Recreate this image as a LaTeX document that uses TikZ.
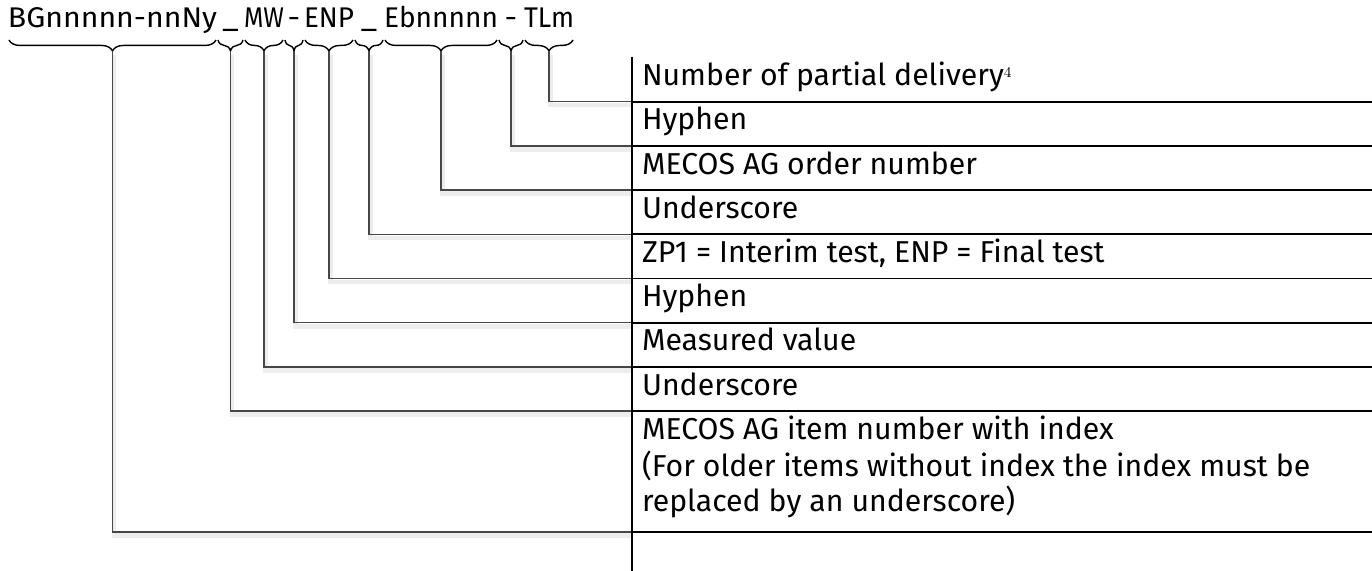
\documentclass[tikz,border=0pt]{standalone}
\usepackage{fontspec}
\usepackage{graphicx}
\newfontfamily\fira{Fira Sans}
\newlength\ppx
\setlength\ppx{0.02cm}
\newcommand\fitseg[2]{\resizebox{#1\ppx}{\height}{#2}}
\newcommand\padseg[2]{\makebox[#1\ppx][c]{#2}}
\usetikzlibrary{decorations.pathreplacing,calc}
\tikzset{
  code/.style={font=\fira\fontsize{16.2}{20}\selectfont, inner sep=0pt, outer sep=0pt, anchor=base west},
  cell/.style={font=\fira\fontsize{17.2}{20}\selectfont, inner sep=0pt, outer sep=0pt, anchor=base west},
  grid/.style={line width=1.1pt, black},
  bracket/.style={decorate, decoration={brace, mirror, amplitude=6.2pt}, line width=0.8pt, black},
  leader/.style={line width=0.8pt, black!72},
  shade/.style={line width=2.6pt, black!7, transform canvas={shift={(0.8pt,-2pt)}}}
}
\begin{document}
\begin{tikzpicture}[x=0.02cm, y=-0.02cm]
\useasboundingbox (0,0) rectangle (1372,571);
% code string split into segments
\node[code] (s1) at (8,28) {\fitseg{209}{BGnnnnn-nnNy}};
\node[code] (s2) at (s1.base east) {\padseg{27}{\scalebox{1.1}[1]{\_}}};
\node[code] (s3) at (s2.base east) {\fitseg{40}{MW}};
\node[code] (s4) at (s3.base east) {\padseg{20}{\scalebox{1.1}[1]{-}}};
\node[code] (s5) at (s4.base east) {\fitseg{50}{ENP}};
\node[code] (s6) at (s5.base east) {\padseg{30}{\scalebox{1.1}[1]{\_}}};
\node[code] (s7) at (s6.base east) {\fitseg{114}{Ebnnnnn}};
\node[code] (s8) at (s7.base east) {\padseg{26}{\scalebox{1.1}[1]{-}}};
\node[code] (s9) at (s8.base east) {\fitseg{50}{TLm}};
% braces and tips
\foreach \i in {1,...,9} {
  \draw[bracket] ($(s\i.base west)+(1,12)$) -- ($(s\i.base east)+(-1,12)$);
  \coordinate (t\i) at ($(s\i.base west)!0.5!(s\i.base east)+(0,23)$);
}
% table geometry
\coordinate (vtop) at (632,57);
\coordinate (vbot) at (632,571);
\foreach \k/\y in {1/101.7,2/145.9,3/190.1,4/234.3,5/278.5,6/322.7,7/366.9,8/411.1,9/532} {
  \coordinate (L\k) at (632,\y);
  \coordinate (R\k) at (1372,\y);
}
% leaders (shadow first)
\foreach \s/\k in {9/1,8/2,7/3,6/4,5/5,4/6,3/7,2/8,1/9} {
  \draw[shade] (t\s) |- (L\k);
}
\foreach \s/\k in {9/1,8/2,7/3,6/4,5/5,4/6,3/7,2/8,1/9} {
  \draw[leader] (t\s) |- (L\k);
}
% table lines
\draw[grid] (vtop) -- (vbot);
\foreach \k in {1,...,9} { \draw[grid] (L\k) -- (R\k); }
% cell texts
\node[cell] (r1) at (642,85.7) {Number of partial delivery\raisebox{4.6pt}{\rmfamily\fontsize{8.5}{8.5}\selectfont 4}};
\node[cell] (r2) at (642,129.9) {Hyphen};
\node[cell] (r3) at (642,174.1) {MECOS AG order number};
\node[cell] (r4) at (642,218.3) {Underscore};
\node[cell] (r5) at (642,262.5) {ZP1 = Interim test, ENP = Final test};
\node[cell] (r6) at (642,306.7) {Hyphen};
\node[cell] (r7) at (642,350.9) {Measured value};
\node[cell] (r8) at (642,395.1) {Underscore};
\node[cell] (r9a) at (642,439) {MECOS AG item number with index};
\node[cell] (r9b) at (642,476) {(For older items without index the index must be};
\node[cell] (r9c) at (642,511) {replaced by an underscore)};
\end{tikzpicture}
\end{document}
